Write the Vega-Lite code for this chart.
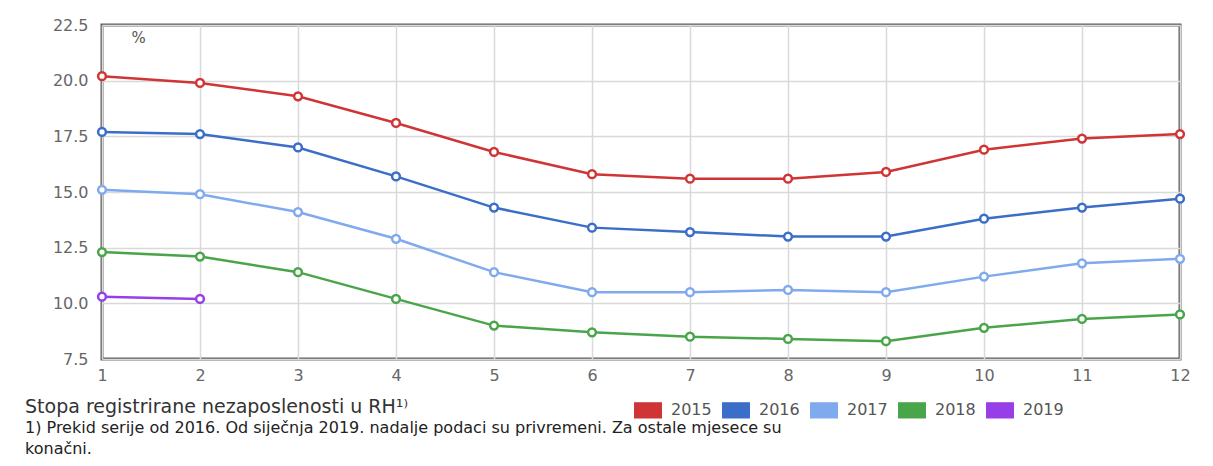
{
  "$schema": "https://vega.github.io/schema/vega-lite/v6.json",
  "autosize": "none",
  "width": 1078,
  "height": 334,
  "padding": {"left": 102, "top": 25, "right": 33, "bottom": 107},
  "background": "white",
  "config": {
    "view": {"stroke": "#5f5f5f", "strokeWidth": 3},
    "font": "DejaVu Sans"
  },
  "title": {
    "text": "Stopa registrirane nezaposlenosti u RH¹⁾",
    "subtitle": ["1) Prekid serije od 2016. Od siječnja 2019. nadalje podaci su privremeni. Za ostale mjesece su", "konačni."],
    "orient": "bottom",
    "anchor": "start",
    "frame": "group",
    "dx": -77,
    "offset": -23,
    "font": "DejaVu Sans",
    "fontSize": 19,
    "fontWeight": "normal",
    "color": "#333333",
    "subtitleFont": "DejaVu Sans",
    "subtitleFontSize": 16,
    "subtitleColor": "#222222",
    "subtitlePadding": 3,
    "subtitleLineHeight": 21
  },
  "data": {
    "values": [
      {"month": 1, "year": "2015", "value": 20.2},
      {"month": 2, "year": "2015", "value": 19.9},
      {"month": 3, "year": "2015", "value": 19.3},
      {"month": 4, "year": "2015", "value": 18.1},
      {"month": 5, "year": "2015", "value": 16.8},
      {"month": 6, "year": "2015", "value": 15.8},
      {"month": 7, "year": "2015", "value": 15.6},
      {"month": 8, "year": "2015", "value": 15.6},
      {"month": 9, "year": "2015", "value": 15.9},
      {"month": 10, "year": "2015", "value": 16.9},
      {"month": 11, "year": "2015", "value": 17.4},
      {"month": 12, "year": "2015", "value": 17.6},
      {"month": 1, "year": "2016", "value": 17.7},
      {"month": 2, "year": "2016", "value": 17.6},
      {"month": 3, "year": "2016", "value": 17.0},
      {"month": 4, "year": "2016", "value": 15.7},
      {"month": 5, "year": "2016", "value": 14.3},
      {"month": 6, "year": "2016", "value": 13.4},
      {"month": 7, "year": "2016", "value": 13.2},
      {"month": 8, "year": "2016", "value": 13.0},
      {"month": 9, "year": "2016", "value": 13.0},
      {"month": 10, "year": "2016", "value": 13.8},
      {"month": 11, "year": "2016", "value": 14.3},
      {"month": 12, "year": "2016", "value": 14.7},
      {"month": 1, "year": "2017", "value": 15.1},
      {"month": 2, "year": "2017", "value": 14.9},
      {"month": 3, "year": "2017", "value": 14.1},
      {"month": 4, "year": "2017", "value": 12.9},
      {"month": 5, "year": "2017", "value": 11.4},
      {"month": 6, "year": "2017", "value": 10.5},
      {"month": 7, "year": "2017", "value": 10.5},
      {"month": 8, "year": "2017", "value": 10.6},
      {"month": 9, "year": "2017", "value": 10.5},
      {"month": 10, "year": "2017", "value": 11.2},
      {"month": 11, "year": "2017", "value": 11.8},
      {"month": 12, "year": "2017", "value": 12.0},
      {"month": 1, "year": "2018", "value": 12.3},
      {"month": 2, "year": "2018", "value": 12.1},
      {"month": 3, "year": "2018", "value": 11.4},
      {"month": 4, "year": "2018", "value": 10.2},
      {"month": 5, "year": "2018", "value": 9.0},
      {"month": 6, "year": "2018", "value": 8.7},
      {"month": 7, "year": "2018", "value": 8.5},
      {"month": 8, "year": "2018", "value": 8.4},
      {"month": 9, "year": "2018", "value": 8.3},
      {"month": 10, "year": "2018", "value": 8.9},
      {"month": 11, "year": "2018", "value": 9.3},
      {"month": 12, "year": "2018", "value": 9.5},
      {"month": 1, "year": "2019", "value": 10.3},
      {"month": 2, "year": "2019", "value": 10.2}
    ]
  },
  "encoding": {
    "x": {
      "field": "month",
      "type": "quantitative",
      "scale": {"domain": [1, 12], "nice": false, "zero": false},
      "axis": {
        "title": null,
        "values": [1, 2, 3, 4, 5, 6, 7, 8, 9, 10, 11, 12],
        "format": "d",
        "domain": false,
        "ticks": false,
        "grid": true,
        "gridColor": "#d9d9d9",
        "gridWidth": 1.5,
        "labelFont": "DejaVu Sans",
        "labelFontSize": 16,
        "labelColor": "#666666",
        "labelPadding": 8,
        "labelFlush": false
      }
    },
    "y": {
      "field": "value",
      "type": "quantitative",
      "scale": {"domain": [7.5, 22.5], "nice": false, "zero": false},
      "axis": {
        "title": "%",
        "titleAngle": 0,
        "titleX": 29,
        "titleY": 17,
        "titleAlign": "left",
        "titleBaseline": "alphabetic",
        "titleFont": "DejaVu Sans",
        "titleFontSize": 15,
        "titleFontWeight": "normal",
        "titleColor": "#555555",
        "values": [7.5, 10, 12.5, 15, 17.5, 20, 22.5],
        "format": ".1f",
        "domain": false,
        "ticks": false,
        "grid": true,
        "gridColor": "#d9d9d9",
        "gridWidth": 1.5,
        "labelFont": "DejaVu Sans",
        "labelFontSize": 16,
        "labelColor": "#666666",
        "labelPadding": 14
      }
    },
    "color": {
      "field": "year",
      "type": "nominal",
      "scale": {
        "domain": ["2015", "2016", "2017", "2018", "2019"],
        "range": ["#cf3535", "#3a6ec8", "#80aaee", "#4aa54a", "#963ee8"]
      },
      "legend": {
        "title": null,
        "orient": "none",
        "direction": "horizontal",
        "legendX": 532,
        "legendY": 371,
        "padding": 0,
        "symbolType": "M-1,-0.56L1,-0.56L1,0.56L-1,0.56Z",
        "symbolSize": 700,
        "labelFont": "DejaVu Sans",
        "labelFontSize": 16,
        "labelColor": "#555555",
        "labelOffset": 9,
        "columnPadding": 7,
        "encode": {
          "symbols": {
            "update": {
              "fill": {"scale": "color", "field": "value"},
              "stroke": {"value": "#cccccc"},
              "strokeWidth": {"value": 1.5},
              "opacity": {"value": 1}
            }
          }
        }
      }
    }
  },
  "layer": [
    {"mark": {"type": "line", "strokeWidth": 2.5}},
    {"mark": {"type": "point", "shape": "circle", "filled": false, "fill": "white", "size": 60, "strokeWidth": 2.5, "opacity": 1}}
  ]
}
